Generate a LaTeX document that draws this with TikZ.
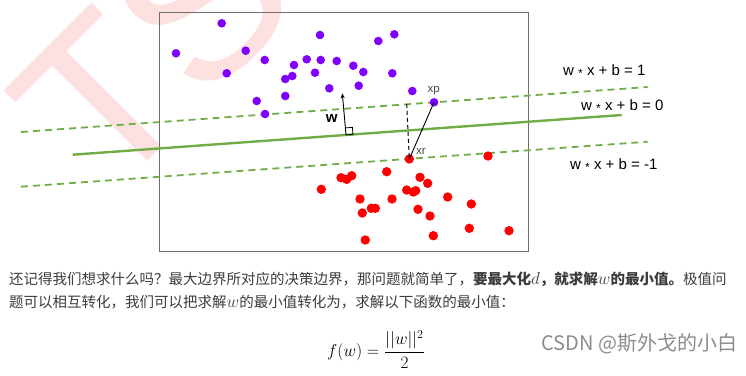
\documentclass[tikz,border=0pt]{standalone}
\usepackage{amsmath}
\usepackage{fontspec}
\setmainfont{Liberation Sans}
\newfontfamily\cjk{Noto Sans CJK SC}
\usetikzlibrary{arrows.meta}
\definecolor{svmgreen}{RGB}{112,173,71}
\definecolor{svmpurple}{RGB}{127,0,255}
\definecolor{svmred}{RGB}{255,0,0}
\definecolor{framegray}{RGB}{110,110,110}
\definecolor{txtgray}{RGB}{60,60,60}
\definecolor{wmgray}{RGB}{140,140,140}
\definecolor{wmpink}{RGB}{253,224,224}
\definecolor{lblgray}{RGB}{70,70,70}
\tikzset{
  pdot/.style={circle,fill=svmpurple,draw=none,inner sep=0,minimum size=8.6pt},
  rdot/.style={circle,fill=svmred,draw=none,inner sep=0,minimum size=9.4pt},
  margin/.style={svmgreen,line width=1.8pt,dash pattern=on 7pt off 5pt},
  boundary/.style={svmgreen,line width=2.4pt},
  eqlabel/.style={anchor=west,inner sep=0,font=\fontsize{15}{15}\selectfont,text=black},
  ptlabel/.style={anchor=base west,inner sep=0,font=\fontsize{11.5}{11.5}\selectfont,text=lblgray},
  bodytext/.style={anchor=west,inner sep=0,text=txtgray,font=\cjk\fontsize{14.5}{14.5}\selectfont}
}
\newcommand{\mystar}{\raisebox{-0.12em}{\fontsize{12}{12}\selectfont *}}
\newcommand{\inlmath}[1]{{\fontsize{17}{17}\selectfont$#1$}}
\begin{document}
\begin{tikzpicture}[x=1pt,y=-1pt]
\useasboundingbox (0,0) rectangle (746,375);
% watermark
\node[rotate=45,anchor=base west,inner sep=0,text=wmpink,font=\fontsize{220}{220}\selectfont] (ts) at (107,202) {TS};
% frame
\draw[framegray,line width=1.5pt] (159.5,12.7) rectangle (528.3,251.7);
% lines
\coordinate (ul) at (21,132);
\coordinate (ur) at (647.7,87);
\coordinate (sl) at (72.7,154.7);
\coordinate (sr) at (621.7,115);
\coordinate (ll) at (21,186.7);
\coordinate (lr) at (647.7,141.7);
\draw[margin] (ul) -- (ur);
\draw[margin] (ll) -- (lr);
\draw[boundary] (sl) -- (sr);
% dots
\foreach \x/\y [count=\i] in {221.7/23.3,176/53.3,245.7/50.7,226.7/73.3,264.7/60,320/35,378.3/41,394.3/34.3,294/65,306.7/59.3,320.7/60,336.7/61,353.3/65.7,363.3/72,392.3/73.3,292.3/76,285.3/79,315/72.7,329.3/88.3,358.7/85.7,412.3/91,256.7/101,285.3/96,265/114}
  \node[pdot] (p\i) at (\x,\y) {};
\node[pdot] (xp) at (434,102.3) {};
\foreach \x/\y [count=\i] in {488/156,386.7/171.7,341/177.7,346.7/179.3,351.7/175.7,420/177.3,427.7/183.3,321.3/189.3,406.7/190,413.3/192,415.7/190.7,447.7/197,360/199,392/199,471.3/204,371.3/208.3,375.3/208.3,418/209.3,362.3/213,430/216,469.3/228.3,509/230.7,433.3/235.7,365.3/240}
  \node[rdot] (r\i) at (\x,\y) {};
\node[rdot] (xr) at (409.3,159) {};
% w vector and right angle
\coordinate (wbase) at (346,134.9);
\coordinate (wtip) at (342.3,93.3);
\draw[black,line width=0.9pt,-{Stealth[length=5pt,width=4pt]}] (wbase) -- (wtip);
\draw[black,line width=0.8pt] (wbase) -- ++(7,-0.5) -- ++(-0.6,-7) -- ++(-7,0.5);
\node[anchor=center,inner sep=0,font=\bfseries\fontsize{15}{15}\selectfont] (wlbl) at (331.7,118.5) {w};
% distance
\coordinate (dtop) at (406.7,104);
\draw[black,line width=1pt,dash pattern=on 4pt off 3pt] (dtop) -- (xr.center);
\draw[black,line width=0.9pt] (xr.center) -- (xp.center);
\node[ptlabel] (xplbl) at (427.3,92.7) {xp};
\node[ptlabel] (xrlbl) at (416,154) {xr};
% equation labels
\node[eqlabel] (e1) at (563,70.7) {w \mystar{} x + b = 1};
\node[eqlabel] (e0) at (581,105.7) {w \mystar{} x + b = 0};
\node[eqlabel] (em) at (570,165) {w \mystar{} x + b = -1};
% body text
\node[bodytext] (t1) at (9,279) {还记得我们想求什么吗？最大边界所对应的决策边界，那问题就简单了，\textbf{要最大化\inlmath{d}，就求解\inlmath{w}的最小值。}极值问};
\node[bodytext] (t2) at (9,302.5) {题可以相互转化，我们可以把求解\inlmath{w}的最小值转化为，求解以下函数的最小值：};
\node[anchor=base west,inner sep=0,font=\fontsize{17}{17}\selectfont] (fw) at (327,356.5) {$f(w)=\dfrac{||w||^2}{2}$};
\node[anchor=west,inner sep=0,text=wmgray,font=\cjk\fontsize{20}{20}\selectfont] (csdn) at (541.5,344) {CSDN @斯外戈的小白};
\end{tikzpicture}
\end{document}
